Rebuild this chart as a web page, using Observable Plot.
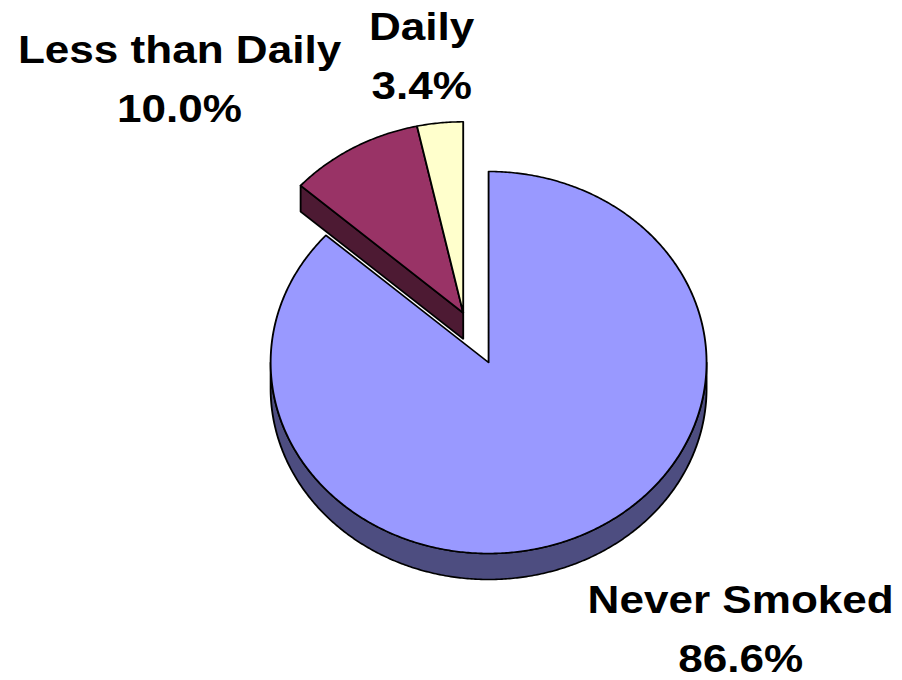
<!DOCTYPE html>
<html><head><meta charset="utf-8">
<script src="https://cdn.jsdelivr.net/npm/d3@7"></script>
<script src="https://cdn.jsdelivr.net/npm/@observablehq/plot@0.6"></script>
<style>
html,body{margin:0;padding:0;background:#fff;overflow:hidden;}
#chart{width:902px;height:680px;overflow:hidden;}
#chart svg{transform:scaleX(1.16);transform-origin:0 0;display:block;}
</style></head><body><div id="chart"></div>
<script>
// ---- data ----
const categories = ["Never Smoked", "Less than Daily", "Daily"];
const values = [86.6, 10.0, 3.4];
const explodedCategories = ["Less than Daily", "Daily"];
const topColors = ["#9999ff", "#993366", "#ffffcc"];
const sideColors = ["#4d4d80", "#4d1a33", "#80805f"];

// ---- layout (drawing px before the horizontal stretch of 1.16) ----
const W = 778, H = 680;
const CX = 420.7, CY = 362, RX = 187.9, RY = 191, DEPTH = 26;
const EXPLODE = 0.285;
const labelPx = [[638, 671], [154.3, 121], [363, 98]]; // centre x, baseline of last line

const drop = DEPTH / RY;
const total = d3.sum(values);
let acc = 0;
const slices = categories.map((c, i) => {
  const a = acc / total * 360; acc += values[i];
  const b = acc / total * 360;
  return {c, i, a, b, exploded: explodedCategories.includes(c)};
});
const n = slices.length;
const ex = slices.filter(s => s.exploded);
const mid = (d3.min(ex, s => s.a) + d3.max(ex, s => s.b)) / 2 * Math.PI / 180;
const exOff = [EXPLODE * Math.sin(mid), EXPLODE * Math.cos(mid)];

const rad = d => d * Math.PI / 180;
function P(th, off, dz = 0) { return {x: off[0] + Math.sin(rad(th)), y: off[1] + Math.cos(rad(th)) - dz}; }
function V(off, dz = 0) { return {x: off[0], y: off[1] - dz}; }
function arc(a, b, off, dz = 0) {
  const k = Math.max(2, Math.ceil((b - a) * 2));
  return d3.range(k + 1).map(j => P(a + (b - a) * j / k, off, dz));
}

const walls = [], tops = [];
for (const s of slices) {
  const off = s.exploded ? exOff : [0, 0];
  const prev = slices[(s.i + n - 1) % n], next = slices[(s.i + 1) % n];
  const wa = Math.max(s.a, 90), wb = Math.min(s.b, 270);
  if (wb > wa) {
    const pts = [...arc(wa, wb, off), ...arc(wa, wb, off, drop).reverse()];
    pts.push(pts[0]);
    walls.push({pts, fill: sideColors[s.i]});
  }
  if (Math.sin(rad(s.a)) < -1e-6 && prev.exploded !== s.exploded) {
    walls.push({pts: [V(off), P(s.a, off), P(s.a, off, drop), V(off, drop), V(off)], fill: sideColors[s.i]});
  }
  if (Math.sin(rad(s.b)) > 1e-6 && next.exploded !== s.exploded) {
    walls.push({pts: [V(off), P(s.b, off), P(s.b, off, drop), V(off, drop), V(off)], fill: sideColors[s.i]});
  }
  tops.push({pts: [V(off), ...arc(s.a, s.b, off), V(off)], fill: topColors[s.i]});
}

const labels = slices.map(s => ({
  x: (labelPx[s.i][0] - CX) / RX,
  y: (CY - labelPx[s.i][1]) / RY,
  text: `${s.c}\n${values[s.i].toFixed(1)}%`
}));

const polyMarks = [...walls, ...tops].map(p =>
  Plot.line(p.pts, {x: "x", y: "y", fill: p.fill, stroke: "#000", strokeWidth: 1.6, strokeLinejoin: "round", curve: "linear"}));

const chart = Plot.plot({
  width: W, height: H,
  margin: 0,
  x: {type: "linear", domain: [-CX / RX, (W - CX) / RX], range: [0, W], axis: null},
  y: {type: "linear", domain: [(CY - H) / RY, CY / RY], range: [H, 0], axis: null},
  style: {background: "#fff", overflow: "visible"},
  marks: [
    ...polyMarks,
    Plot.text(labels, {x: "x", y: "y", text: "text", fontSize: 38, fontWeight: "bold",
      fontFamily: "'Liberation Sans', Arial, sans-serif", lineHeight: 1.53, lineAnchor: "bottom",
      textAnchor: "middle", fill: "#000"})
  ]
});
document.getElementById("chart").appendChild(chart);
</script></body></html>
